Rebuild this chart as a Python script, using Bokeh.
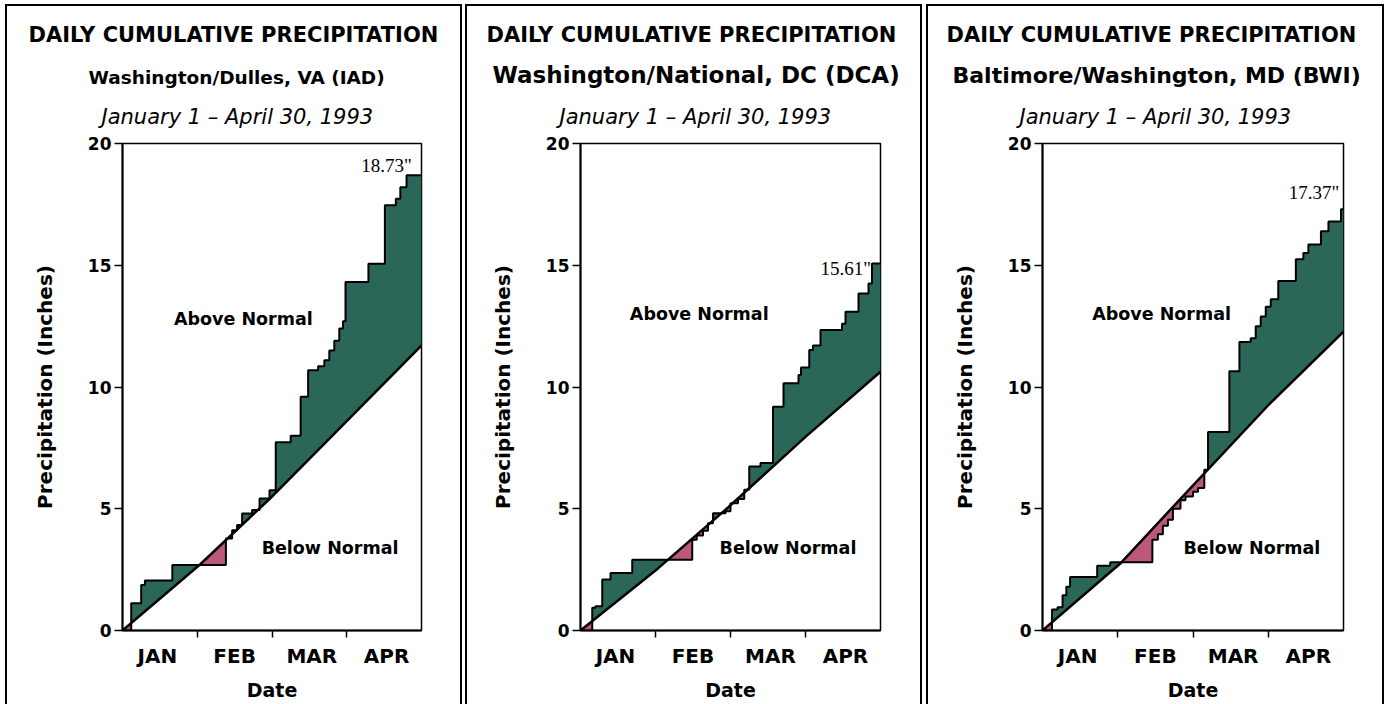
import numpy as np
from bokeh.plotting import figure
from bokeh.models import Range1d, FixedTicker, Label, Title
from bokeh.layouts import row
from bokeh.embed import file_html
from bokeh.resources import INLINE

# ---------------- data ----------------
TITLE = "DAILY CUMULATIVE PRECIPITATION"
PERIOD = "January 1 \u2013 April 30, 1993"
MONTHS = ["JAN", "FEB", "MAR", "APR"]
MONTH_CENTERS = [14, 45, 76, 106]
MONTH_TICKS = [30, 60, 90]
MONTH_EDGES = [0, 31, 59, 90, 120]
Y_TICKS = [0, 5, 10, 15, 20]

IAD_NAME = "Washington/Dulles, VA (IAD)"
IAD_TOTAL = '18.73"'
IAD_DAYS = [0, 3.5, 7.5, 9, 20, 41.5, 44, 46, 48, 52, 55, 59, 61.5, 67.5, 71.5,
            74.5, 78.5, 81, 83, 85, 87, 88.5, 89.5, 98.7, 105.3, 109.7, 111.5, 114]
IAD_VALUES = [0, 1.12, 1.87, 2.05, 2.69, 3.78, 4.12, 4.33, 4.81, 4.95, 5.42, 5.76, 7.73, 8.0, 9.6,
              10.69, 10.85, 11.1, 11.5, 11.9, 12.4, 12.7, 14.31, 15.06, 17.46, 17.73, 18.2, 18.7]
IAD_NORMAL_MONTHLY = [2.70, 2.70, 3.20, 3.11]

DCA_NAME = "Washington/National, DC (DCA)"
DCA_TOTAL = '15.61"'
DCA_DAYS = [0, 4.7, 6, 8.7, 12, 20.7, 44.7, 46.5, 49, 51, 53, 58, 60, 63, 65.5, 67.5, 72,
            77, 81.2, 87.2, 88.2, 91.5, 93, 96, 104.6, 106, 111.2, 115.2, 116.6]
DCA_VALUES = [0, 0.93, 1.0, 2.09, 2.36, 2.91, 3.73, 3.9, 4.1, 4.4, 4.82, 4.9, 5.23, 5.4, 5.78, 6.73, 6.88,
              9.19, 10.15, 10.49, 10.8, 11.52, 11.7, 12.34, 12.6, 13.09, 13.84, 14.25, 15.07]
DCA_NORMAL_MONTHLY = [2.55, 2.50, 2.90, 2.68]

BWI_NAME = "Baltimore/Washington, MD (BWI)"
BWI_TOTAL = '17.37"'
BWI_DAYS = [0, 3.8, 6, 8, 9.5, 11, 21.8, 27, 43.8, 46, 48, 50, 52, 55, 57, 60, 62, 64.5, 66,
            74.5, 78.5, 83, 85, 87, 89, 91, 94, 101, 104, 106, 111, 114, 119]
BWI_VALUES = [0, 0.86, 0.95, 1.45, 1.8, 2.2, 2.66, 2.8, 3.73, 3.95, 4.3, 4.55, 5.0, 5.35, 5.5, 5.7, 5.85, 6.6, 8.15,
              10.65, 11.85, 12.0, 12.5, 12.9, 13.3, 13.6, 14.35, 15.25, 15.5, 15.85, 16.4, 16.8, 17.3]
BWI_NORMAL_MONTHLY = [2.75, 3.10, 3.40, 3.02]

# ---------------- style ----------------
GREEN = "#2b6758"
RED = "#bb587b"
SANS = "DejaVu Sans"
SERIF = "Liberation Serif"
HEIGHT = 704
FRAME_TOP = 143
FRAME_BOTTOM = 74
K = 1.15  # text box height / font size


def box_shadow(left_in, right_in):
    return ", ".join([
        f"inset {left_in}px 0 0 0 white", f"inset -{right_in}px 0 0 0 white", "inset 0 4px 0 0 white",
        f"inset {left_in + 2}px 0 0 0 black", f"inset -{right_in + 2}px 0 0 0 black", "inset 0 6px 0 0 black",
    ])


def add_headers(p, frame_left, name, sub_size, sub_em, center_x):
    # (text, size px, style, em width, target centre distance above frame)
    specs = [(PERIOD, 21, "italic", 12.94, 27),
             (name, sub_size, "bold", sub_em, 66),
             (TITLE, 21, "bold", 19.9, 109)]
    stack = 0.0
    for txt, size, style, em, dist in specs:
        h = K * size
        s = max(0, int(round(2 * (dist - stack) - h)))
        stack += 2 + h + s
        off = int(round(center_x - em * size / 2 - frame_left))
        p.add_layout(Title(text=txt, text_font=SANS, text_font_size=f"{size}px", text_font_style=style,
                           align="left", offset=off, standoff=s, vertical_align="bottom",
                           text_color="black"), "above")


def make_panel(name, days, vals, normal_monthly, total_text, total_pos, above_pos, below_pos,
               width, left, right, box, sub_size, sub_em, center_x):
    p = figure(width=width, height=HEIGHT, output_backend="svg", toolbar_location=None,
               x_range=Range1d(0, 120), y_range=Range1d(0, 20),
               min_border_left=left, min_border_right=right,
               min_border_top=FRAME_TOP, min_border_bottom=FRAME_BOTTOM)
    p.border_fill_color = None
    p.background_fill_color = "white"
    p.outline_line_color = "black"
    p.outline_line_width = 1.5
    p.grid.visible = False
    p.styles = {"box-shadow": box_shadow(*box)}

    days = np.asarray(days, dtype=float)
    vals = np.asarray(vals, dtype=float)
    cum_norm = np.concatenate([[0.0], np.cumsum(normal_monthly)])

    xs = np.linspace(0, 120, 2401)
    idx = np.searchsorted(days, xs, side="right") - 1
    obs = vals[idx]
    norm = np.interp(xs, MONTH_EDGES, cum_norm)
    p.varea(x=xs, y1=norm, y2=np.maximum(obs, norm), fill_color=GREEN)
    p.varea(x=xs, y1=norm, y2=np.minimum(obs, norm), fill_color=RED)

    p.step(x=list(days) + [120], y=list(vals) + [vals[-1]], mode="after",
           line_color="black", line_width=2)
    p.line(x=MONTH_EDGES, y=cum_norm, line_color="black", line_width=2.5)

    # axes
    p.xaxis.ticker = FixedTicker(ticks=MONTH_CENTERS, minor_ticks=MONTH_TICKS)
    p.xaxis.major_label_overrides = {c: m for c, m in zip(MONTH_CENTERS, MONTHS)}
    p.xaxis.major_tick_in = 0
    p.xaxis.major_tick_out = 0
    p.xaxis.minor_tick_in = 0
    p.xaxis.minor_tick_out = 7
    p.xaxis.minor_tick_line_width = 1.5
    p.xaxis.major_label_standoff = 6
    p.xaxis.axis_label = "Date"
    p.xaxis.axis_label_standoff = 8

    p.yaxis.ticker = FixedTicker(ticks=Y_TICKS)
    p.yaxis.major_tick_in = 0
    p.yaxis.major_tick_out = 8
    p.yaxis.minor_tick_out = 0
    p.yaxis.minor_tick_in = 0
    p.yaxis.major_tick_line_width = 1.5
    p.yaxis.major_label_standoff = 3
    p.yaxis.axis_label = "Precipitation (Inches)"
    p.yaxis.axis_label_standoff = 28

    for ax in (p.xaxis[0], p.yaxis[0]):
        ax.axis_line_width = 2
        ax.axis_line_color = "black"
        ax.major_label_text_font = SANS
        ax.major_label_text_font_style = "bold"
        ax.major_label_text_color = "black"
        ax.axis_label_text_font = SANS
        ax.axis_label_text_font_style = "bold"
        ax.axis_label_text_color = "black"
    p.xaxis.major_label_text_font_size = "20px"
    p.yaxis.major_label_text_font_size = "17px"
    p.xaxis.axis_label_text_font_size = "19px"
    p.yaxis.axis_label_text_font_size = "20px"

    add_headers(p, left, name, sub_size, sub_em, center_x)

    p.add_layout(Label(x=above_pos[0], y=above_pos[1], text="Above Normal", text_font=SANS,
                       text_font_size="17.5px", text_font_style="bold", text_align="center",
                       text_baseline="middle", text_color="black"))
    p.add_layout(Label(x=below_pos[0], y=below_pos[1], text="Below Normal", text_font=SANS,
                       text_font_size="17.5px", text_font_style="bold", text_align="center",
                       text_baseline="middle", text_color="black"))
    p.add_layout(Label(x=total_pos[0], y=total_pos[1], text=total_text, text_font=SERIF,
                       text_font_size="19px", text_align="right", text_baseline="middle",
                       text_color="black"))
    return p


# header centres are given relative to each panel's own left edge
p1 = make_panel(IAD_NAME, IAD_DAYS, IAD_VALUES, IAD_NORMAL_MONTHLY, IAD_TOTAL, (116.1, 19.1),
                (48.5, 12.8), (83.3, 3.4), 463, 122, 42, (5, 1), 18.5, 16.06, 237)
p2 = make_panel(DCA_NAME, DCA_DAYS, DCA_VALUES, DCA_NORMAL_MONTHLY, DCA_TOTAL, (116.2, 14.85),
                (47.5, 13.0), (83.0, 3.4), 461, 117, 44, (2, 2), 23, 17.65, 232)
p3 = make_panel(BWI_NAME, BWI_DAYS, BWI_VALUES, BWI_NORMAL_MONTHLY, BWI_TOTAL, (118.3, 18.0),
                (47.5, 13.0), (83.5, 3.4), 462, 118, 43, (2, 2), 22, 18.5, 231)

layout = row(p1, p2, p3, spacing=0)
open("out.html", "w").write(file_html(layout, INLINE))
